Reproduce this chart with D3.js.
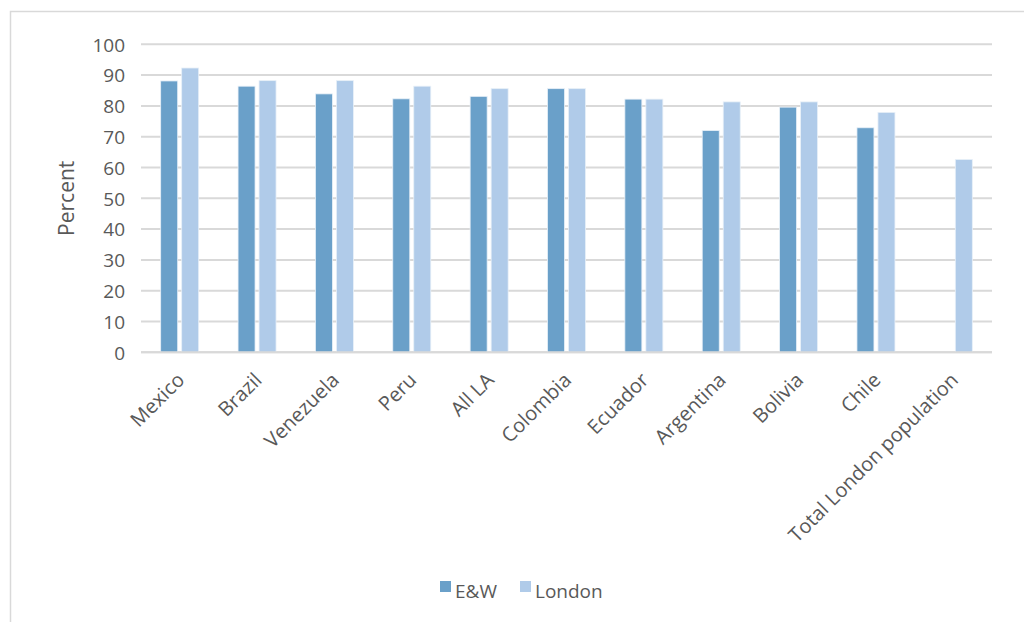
<!DOCTYPE html>
<html>
<head>
<meta charset="utf-8">
<script src="https://cdn.jsdelivr.net/npm/d3@7"></script>
<style>
  html, body { margin: 0; padding: 0; background: #fff; }
  svg text { font-family: "Open Sans", Lato, sans-serif; fill: #595959; }
</style>
</head>
<body>
<svg id="chart" width="1024" height="622"></svg>
<script>
// Share of respondents by country of birth, E&W vs London (percent)
const categories = ["Mexico", "Brazil", "Venezuela", "Peru", "All LA", "Colombia",
                    "Ecuador", "Argentina", "Bolivia", "Chile", "Total London population"];
const seriesNames = ["E&W", "London"];
const ewValues     = [88.1, 86.4, 83.9, 82.3, 83.1, 85.6, 82.2, 72.0, 79.6, 72.9, null];
const londonValues = [92.3, 88.2, 88.2, 86.4, 85.6, 85.6, 82.2, 81.3, 81.3, 77.9, 62.6];
const yTicks = [0, 10, 20, 30, 40, 50, 60, 70, 80, 90, 100];
const colors = ["#6aa0c9", "#b0cbe9"];
const fontStack = "'Open Sans', Lato, sans-serif";

const svg = d3.select("#chart");

// outer chart frame
svg.append("rect")
  .attr("x", 10.5).attr("y", 11.5)
  .attr("width", 1030).attr("height", 640)
  .attr("fill", "none").attr("stroke", "#d9d9d9").attr("stroke-width", 1.5);

const plot = { left: 141, right: 992, top: 44.3, bottom: 352.3 };

const x = d3.scaleBand().domain(categories).range([plot.left, plot.right]);
const y = d3.scaleLinear().domain([0, 100]).range([plot.bottom, plot.top]);

// gridlines
svg.append("g").selectAll("line").data(yTicks).join("line")
  .attr("x1", plot.left).attr("x2", plot.right)
  .attr("y1", d => y(d)).attr("y2", d => y(d))
  .attr("stroke", "#d9d9d9").attr("stroke-width", 2);

// y axis labels
const yAxis = d3.axisLeft(y).tickValues(yTicks).tickSize(0).tickPadding(0);
const gy = svg.append("g").attr("transform", `translate(${plot.left - 16},0)`).call(yAxis);
gy.select(".domain").remove();
gy.selectAll("text").attr("font-size", 19).attr("fill", "#595959")
  .attr("dy", "0.36em")
  .style("font-family", fontStack);

// y axis title
svg.append("text")
  .attr("transform", `translate(74,${(plot.top + plot.bottom) / 2}) rotate(-90)`)
  .attr("text-anchor", "middle")
  .attr("font-size", 21)
  .text("Percent");

// bars
const barW = 17, gap = 4;
const offsets = [-(barW + gap / 2), gap / 2];
const seriesData = [ewValues, londonValues];
seriesData.forEach((vals, si) => {
  svg.append("g").selectAll("rect")
    .data(categories.map((c, i) => ({ c, v: vals[i] })).filter(d => d.v != null))
    .join("rect")
    .attr("x", d => x(d.c) + x.bandwidth() / 2 + offsets[si])
    .attr("y", d => y(d.v))
    .attr("width", barW)
    .attr("height", d => y(0) - y(d.v))
    .attr("fill", colors[si])
    .attr("stroke", "#e8f0f8").attr("stroke-width", 0.8);
});

// x axis baseline
svg.append("line")
  .attr("x1", plot.left).attr("x2", plot.right)
  .attr("y1", y(0)).attr("y2", y(0))
  .attr("stroke", "#d9d9d9").attr("stroke-width", 2);

// category labels
const xAxis = d3.axisBottom(x).tickSize(0).tickPadding(0);
const gx = svg.append("g").attr("transform", `translate(0,${plot.bottom})`).call(xAxis);
gx.select(".domain").remove();
gx.selectAll("text")
  .attr("font-size", 20).attr("fill", "#595959")
  .style("font-family", fontStack)
  .attr("text-anchor", "end")
  .attr("dy", 0).attr("y", 0)
  .attr("transform", "translate(6,29) rotate(-45)");

// legend
const legend = svg.append("g").attr("transform", "translate(440,581)");
const legendItems = [{ name: seriesNames[0], x: 0 }, { name: seriesNames[1], x: 80 }];
legendItems.forEach((it, i) => {
  legend.append("rect").attr("x", it.x).attr("y", 0).attr("width", 11).attr("height", 11)
    .attr("fill", colors[i]);
  legend.append("text").attr("x", it.x + 15).attr("y", 17)
    .attr("font-size", 19).text(it.name);
});
</script>
</body>
</html>
